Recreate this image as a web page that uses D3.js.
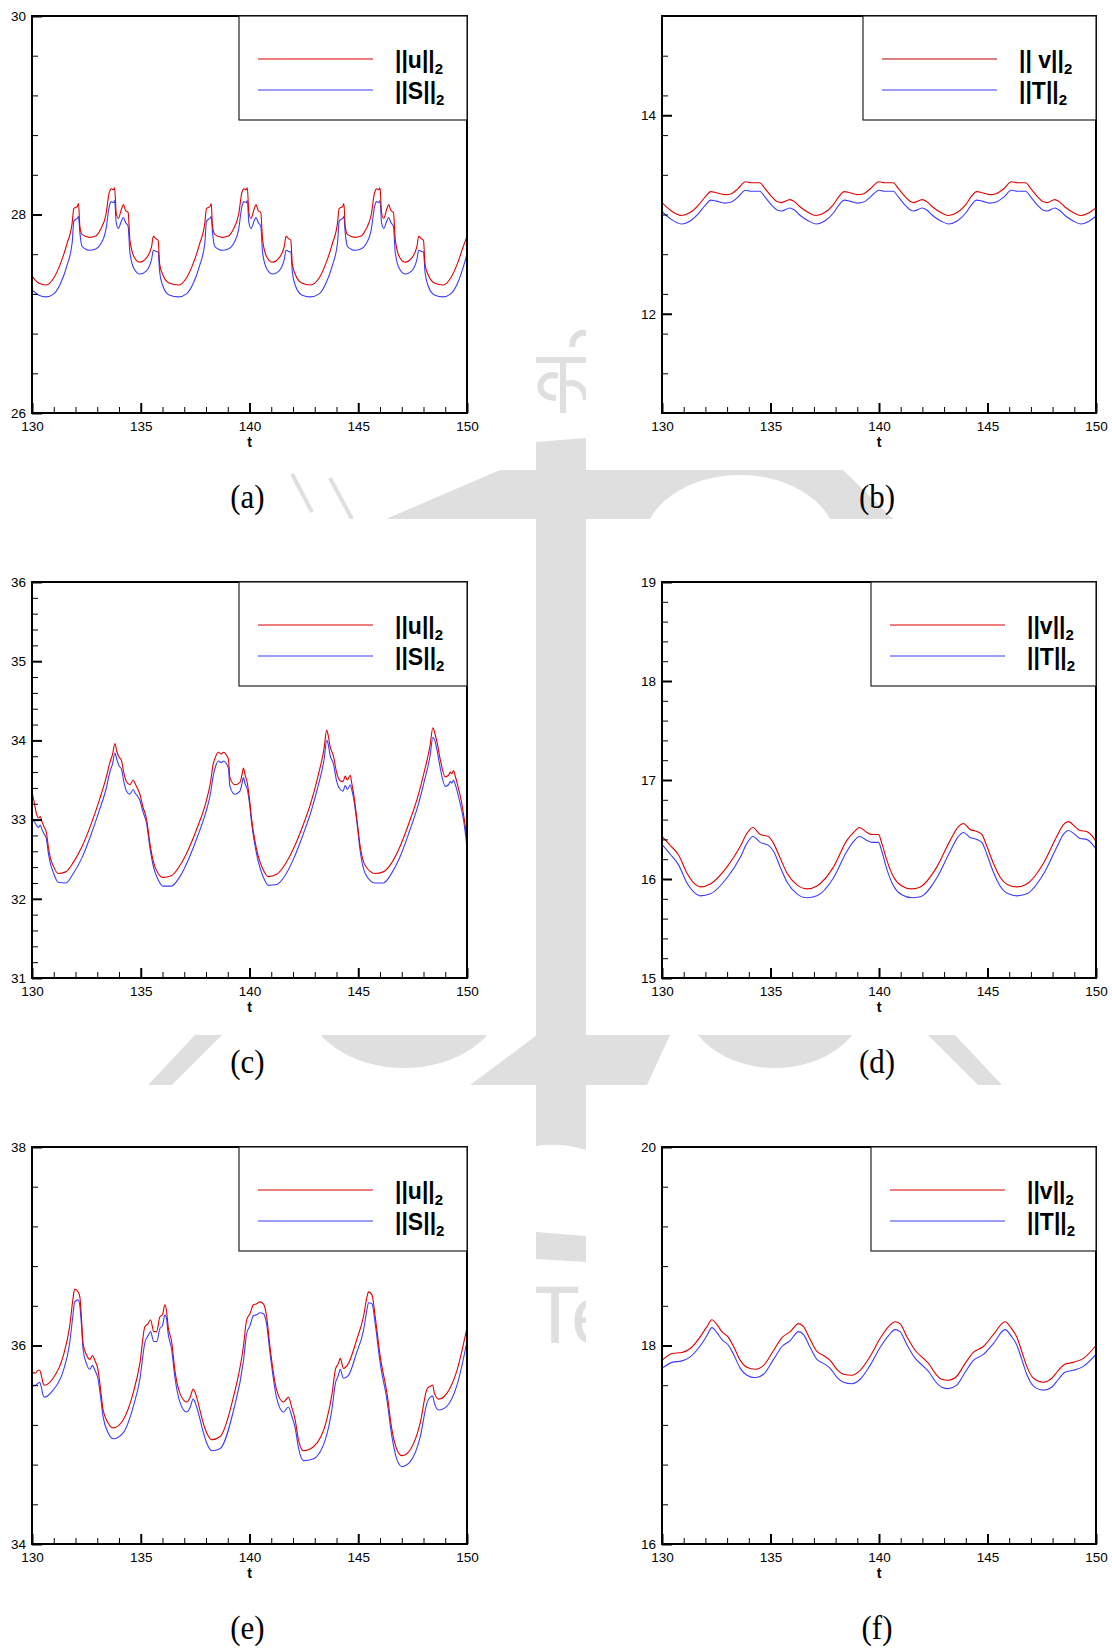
<!DOCTYPE html>
<html><head><meta charset="utf-8">
<script src="https://cdn.jsdelivr.net/npm/d3@7"></script>
<style>body{margin:0;background:#fff}svg{display:block}</style>
</head><body>
<svg id="chart" width="1112" height="1650"></svg>
<script>
// ---------------- data ----------------
const xTicks = [130, 135, 140, 145, 150];
const yTicksA = [26, 28, 30];
const yTicksB = [12, 14];
const yTicksC = [31, 32, 33, 34, 35, 36];
const yTicksD = [15, 16, 17, 18, 19];
const yTicksE = [34, 36, 38];
const yTicksF = [16, 18, 20];
const legendA = ["||u||", "||S||"];
const legendB = ["|| v||", "||T||"];
const legendD = ["||v||", "||T||"];
const captions = ["(a)", "(b)", "(c)", "(d)", "(e)", "(f)"];

// (a)
const tA = [130.00,130.30,130.65,131.00,131.30,131.60,131.85,131.92,132.00,132.08,132.14,132.20,132.30,132.65,132.90,133.15,133.40,133.55,133.65,133.75,133.80,133.87,133.97,134.12,134.20,134.30,134.42,134.50,134.70,134.96,135.25,135.50,135.58,135.68,135.80,135.87,136.00,136.30,
  136.75,137.10,137.40,137.70,137.95,138.02,138.10,138.18,138.24,138.30,138.40,138.75,139.00,139.25,139.50,139.65,139.75,139.85,139.90,139.97,140.07,140.22,140.30,140.40,140.52,140.60,140.80,141.06,141.35,141.60,141.68,141.78,141.90,141.97,142.10,142.40,
  142.80,143.20,143.50,143.80,144.05,144.12,144.20,144.28,144.34,144.40,144.50,144.85,145.10,145.35,145.60,145.75,145.85,145.95,146.00,146.07,146.17,146.32,146.40,146.50,146.62,146.70,146.90,147.16,147.45,147.70,147.78,147.88,148.00,148.07,148.20,148.50,148.90,149.25,149.55,149.80,150.00];
const uA = [27.38,27.31,27.29,27.36,27.50,27.70,27.92,28.06,28.07,28.08,28.11,27.88,27.80,27.77,27.78,27.85,28.00,28.22,28.26,28.25,28.27,28.02,27.96,28.06,28.10,28.04,28.02,27.75,27.57,27.52,27.56,27.68,27.78,27.76,27.74,27.50,27.40,27.31,
  27.29,27.36,27.50,27.70,27.92,28.06,28.07,28.08,28.11,27.88,27.80,27.77,27.78,27.85,28.00,28.22,28.26,28.25,28.27,28.02,27.96,28.06,28.10,28.04,28.02,27.75,27.57,27.52,27.56,27.68,27.78,27.76,27.74,27.50,27.40,27.31,
  27.29,27.36,27.50,27.70,27.92,28.06,28.07,28.08,28.11,27.88,27.80,27.77,27.78,27.85,28.00,28.22,28.26,28.25,28.27,28.02,27.96,28.06,28.10,28.04,28.02,27.75,27.57,27.52,27.56,27.68,27.78,27.76,27.74,27.50,27.40,27.31,27.29,27.36,27.50,27.66,27.78];
const SA = [27.24,27.19,27.17,27.20,27.30,27.48,27.72,27.93,27.95,27.96,27.98,27.82,27.68,27.64,27.65,27.70,27.85,28.08,28.13,28.12,28.14,27.92,27.86,27.94,27.97,27.92,27.88,27.62,27.45,27.40,27.43,27.55,27.64,27.63,27.62,27.42,27.29,27.19,
  27.17,27.20,27.30,27.48,27.72,27.93,27.95,27.96,27.98,27.82,27.68,27.64,27.65,27.70,27.85,28.08,28.13,28.12,28.14,27.92,27.86,27.94,27.97,27.92,27.88,27.62,27.45,27.40,27.43,27.55,27.64,27.63,27.62,27.42,27.29,27.19,
  27.17,27.20,27.30,27.48,27.72,27.93,27.95,27.96,27.98,27.82,27.68,27.64,27.65,27.70,27.85,28.08,28.13,28.12,28.14,27.92,27.86,27.94,27.97,27.92,27.88,27.62,27.45,27.40,27.43,27.55,27.64,27.63,27.62,27.42,27.29,27.19,27.17,27.20,27.30,27.45,27.60];

// (b)
const tB = [130.00,130.40,130.90,131.30,131.70,132.00,132.25,132.50,132.90,133.20,133.50,133.85,134.10,134.50,134.75,135.05,135.30,135.50,135.90,136.10,136.40,136.75,
  137.10,137.50,137.90,138.15,138.40,138.65,139.00,139.30,139.60,140.00,140.25,140.65,140.90,141.20,141.45,141.60,142.00,142.20,142.50,142.85,
  143.20,143.60,144.00,144.25,144.50,144.75,145.10,145.40,145.75,146.10,146.40,146.75,147.00,147.30,147.55,147.75,148.10,148.30,148.60,148.95,
  149.30,149.70,150.00];
const vB = [13.12,13.04,12.99,13.02,13.10,13.18,13.23,13.22,13.20,13.21,13.26,13.33,13.32,13.32,13.26,13.18,13.13,13.12,13.15,13.13,13.07,13.02,
  12.99,13.02,13.10,13.18,13.23,13.22,13.20,13.21,13.26,13.33,13.32,13.32,13.26,13.18,13.13,13.12,13.15,13.13,13.07,13.02,
  12.99,13.02,13.10,13.18,13.23,13.22,13.20,13.21,13.26,13.33,13.32,13.32,13.26,13.18,13.13,13.12,13.15,13.13,13.07,13.02,
  12.99,13.02,13.07];
const TB = [13.03,12.955,12.905,12.935,13.015,13.095,13.145,13.135,13.115,13.125,13.175,13.245,13.235,13.235,13.175,13.095,13.045,13.035,13.065,13.045,12.985,12.935,
  12.905,12.935,13.015,13.095,13.145,13.135,13.115,13.125,13.175,13.245,13.235,13.235,13.175,13.095,13.045,13.035,13.065,13.045,12.985,12.935,
  12.905,12.935,13.015,13.095,13.145,13.135,13.115,13.125,13.175,13.245,13.235,13.235,13.175,13.095,13.045,13.035,13.065,13.045,12.985,12.935,
  12.905,12.935,12.985];

// (c)
const tC = [130.00,130.10,130.22,130.30,130.38,130.45,130.55,130.66,130.75,130.85,
  130.97,131.20,131.55,131.90,132.30,132.70,133.10,133.40,133.60,133.70,
  133.81,133.90,134.00,134.11,134.22,134.34,134.50,134.65,134.75,134.84,
  134.95,135.10,135.27,135.42,135.57,135.80,136.03,136.40,136.80,137.20,
  137.60,138.00,138.20,138.33,138.45,138.56,138.70,138.80,138.95,139.03,
  139.10,139.33,139.56,139.65,139.72,139.80,139.90,140.00,140.10,140.33,
  140.64,140.87,141.25,141.65,142.05,142.45,142.85,143.15,143.43,143.55,
  143.62,143.70,143.86,144.01,144.17,144.30,144.40,144.50,144.63,144.70,
  144.78,144.94,145.09,145.32,145.78,146.15,146.55,146.95,147.35,147.75,
  148.05,148.30,148.43,148.52,148.62,148.77,149.00,149.15,149.23,149.30,
  149.38,149.45,149.51,149.60,149.69,149.85,150.00];
const uC = [33.35,33.22,33.06,33.02,33.04,32.98,32.91,32.84,32.66,32.51,
  32.42,32.32,32.34,32.46,32.66,32.93,33.25,33.52,33.74,33.82,
  33.96,33.86,33.79,33.75,33.59,33.48,33.44,33.50,33.45,33.40,
  33.33,33.16,33.00,32.70,32.48,32.32,32.27,32.29,32.42,32.63,
  32.90,33.22,33.46,33.70,33.80,33.85,33.83,33.85,33.81,33.76,
  33.53,33.44,33.47,33.56,33.65,33.56,33.46,33.26,33.00,32.62,
  32.36,32.28,32.31,32.44,32.65,32.92,33.24,33.55,33.90,34.13,
  34.06,33.93,33.80,33.59,33.49,33.48,33.55,33.50,33.56,33.46,
  33.34,33.00,32.66,32.42,32.32,32.34,32.46,32.68,32.97,33.30,
  33.62,33.93,34.16,34.09,33.98,33.76,33.54,33.56,33.60,33.58,
  33.62,33.56,33.50,33.40,33.30,33.05,32.75];
const SC = [33.02,32.98,32.92,32.90,32.93,32.88,32.82,32.76,32.58,32.44,
  32.34,32.21,32.20,32.32,32.52,32.80,33.12,33.38,33.62,33.70,
  33.84,33.76,33.68,33.64,33.48,33.36,33.32,33.38,33.33,33.30,
  33.25,33.10,32.95,32.65,32.42,32.24,32.16,32.16,32.28,32.50,
  32.78,33.10,33.32,33.55,33.68,33.74,33.72,33.74,33.70,33.65,
  33.42,33.32,33.36,33.45,33.53,33.45,33.38,33.20,32.95,32.56,
  32.27,32.17,32.18,32.30,32.52,32.80,33.12,33.42,33.76,34.00,
  33.95,33.82,33.70,33.48,33.38,33.36,33.43,33.38,33.44,33.38,
  33.28,32.96,32.60,32.32,32.20,32.20,32.33,32.55,32.85,33.18,
  33.50,33.80,34.04,34.00,33.88,33.65,33.42,33.44,33.48,33.46,
  33.50,33.45,33.40,33.30,33.20,32.98,32.65];

// (d)
const tD = [130.00,130.38,130.77,131.15,131.46,131.77,132.23,132.99,133.61,133.91,
  134.19,134.53,134.91,135.14,135.45,135.76,136.22,136.68,137.14,137.90,
  138.52,138.83,139.10,139.44,139.67,139.98,140.13,140.36,140.67,141.05,
  141.51,141.90,142.66,143.28,143.66,143.89,144.20,144.51,144.74,144.97,
  145.27,145.58,145.96,146.35,146.81,147.58,148.19,148.50,148.73,149.03,
  149.26,149.57,149.80,150.00];
const vD = [16.43,16.34,16.24,16.06,15.96,15.92,15.95,16.12,16.33,16.46,
  16.52,16.45,16.43,16.36,16.21,16.06,15.94,15.90,15.93,16.12,
  16.39,16.47,16.52,16.47,16.45,16.45,16.36,16.19,16.02,15.93,
  15.90,15.92,16.12,16.39,16.53,16.56,16.50,16.48,16.45,16.33,
  16.16,16.02,15.94,15.92,15.95,16.16,16.43,16.55,16.58,16.53,
  16.49,16.48,16.44,16.38];
const TD = [16.35,16.25,16.14,15.96,15.87,15.83,15.85,16.01,16.22,16.36,
  16.43,16.37,16.34,16.28,16.12,15.97,15.85,15.81,15.83,16.01,
  16.28,16.38,16.43,16.39,16.37,16.37,16.28,16.10,15.93,15.84,
  15.81,15.82,16.01,16.28,16.43,16.47,16.42,16.40,16.37,16.25,
  16.07,15.93,15.85,15.83,15.85,16.05,16.32,16.45,16.49,16.45,
  16.41,16.40,16.36,16.30];

// (e)
const tE = [130.00,130.08,130.15,130.28,130.35,130.43,130.51,130.58,130.97,131.43,
  131.73,131.89,131.96,132.12,132.20,132.27,132.35,132.50,132.66,132.78,
  132.89,133.04,133.12,133.27,133.50,133.73,134.19,134.65,134.96,135.19,
  135.34,135.45,135.60,135.73,135.88,136.00,136.11,136.19,136.26,136.42,
  136.57,136.80,137.11,137.26,137.41,137.57,137.72,137.87,138.03,138.26,
  138.64,139.26,139.72,139.87,140.02,140.18,140.33,140.48,140.64,140.79,
  140.94,141.25,141.56,141.79,141.94,142.10,142.25,142.48,142.94,143.55,
  143.80,143.95,144.09,144.17,144.32,144.55,144.93,145.24,145.40,145.47,
  145.63,145.78,146.01,146.32,146.55,146.78,147.01,147.39,147.85,148.16,
  148.31,148.42,148.50,148.70,149.08,149.54,150.00];
const uE = [35.69,35.73,35.72,35.75,35.75,35.70,35.62,35.60,35.67,35.89,
  36.19,36.48,36.57,36.54,36.49,36.29,36.02,35.91,35.86,35.90,
  35.85,35.75,35.62,35.35,35.22,35.17,35.25,35.52,35.82,36.19,
  36.22,36.26,36.14,36.14,36.29,36.31,36.41,36.34,36.19,36.04,
  35.75,35.52,35.43,35.47,35.56,35.48,35.35,35.22,35.12,35.05,
  35.08,35.48,35.99,36.26,36.32,36.41,36.42,36.44,36.42,36.29,
  35.99,35.55,35.43,35.48,35.38,35.25,35.05,34.94,34.98,35.25,
  35.52,35.76,35.82,35.87,35.77,35.82,36.06,36.29,36.49,36.54,
  36.51,36.29,35.89,35.52,35.15,34.95,34.89,34.95,35.22,35.56,
  35.59,35.60,35.52,35.46,35.52,35.75,36.18];
const SE = [35.58,35.60,35.60,35.62,35.63,35.58,35.50,35.48,35.55,35.74,
  36.02,36.32,36.44,36.46,36.40,36.22,35.96,35.82,35.76,35.80,
  35.75,35.66,35.54,35.28,35.12,35.06,35.12,35.38,35.66,36.03,
  36.10,36.14,36.04,36.04,36.17,36.20,36.31,36.26,36.12,35.96,
  35.68,35.43,35.33,35.37,35.46,35.38,35.26,35.13,35.02,34.94,
  34.96,35.34,35.84,36.12,36.20,36.30,36.31,36.33,36.32,36.21,
  35.93,35.47,35.33,35.38,35.29,35.17,34.97,34.84,34.86,35.10,
  35.37,35.62,35.70,35.76,35.67,35.70,35.93,36.15,36.36,36.43,
  36.42,36.22,35.82,35.45,35.08,34.85,34.78,34.83,35.08,35.42,
  35.48,35.49,35.42,35.35,35.39,35.60,36.04];

// (f)
const tF = [130.00,130.46,130.92,131.30,131.77,132.07,132.30,132.53,132.76,133.07,
  133.30,133.61,133.91,134.30,134.68,135.14,135.53,135.91,136.29,136.52,
  136.83,137.14,137.44,137.75,138.06,138.37,138.75,139.13,139.59,140.05,
  140.44,140.74,140.97,141.28,141.67,142.05,142.28,142.59,142.89,143.20,
  143.58,143.97,144.35,144.81,145.27,145.81,146.11,146.34,146.58,146.81,
  147.12,147.57,147.96,148.27,148.57,148.96,149.42,150.00];
const vF = [17.85,17.92,17.93,17.97,18.09,18.19,18.26,18.21,18.14,18.08,
  17.99,17.85,17.78,17.76,17.80,17.95,18.08,18.14,18.22,18.19,
  18.06,17.94,17.90,17.85,17.76,17.71,17.70,17.75,17.89,18.07,
  18.19,18.24,18.22,18.09,17.95,17.87,17.82,17.72,17.66,17.65,
  17.69,17.82,17.93,17.99,18.11,18.24,18.17,18.09,17.94,17.79,
  17.67,17.63,17.67,17.75,17.81,17.83,17.87,18.00];
const TF = [17.77,17.83,17.845,17.885,18.00,18.10,18.18,18.13,18.06,18.00,
  17.91,17.77,17.70,17.675,17.71,17.86,17.99,18.05,18.14,18.11,
  17.98,17.86,17.82,17.77,17.68,17.63,17.615,17.66,17.80,17.98,
  18.10,18.16,18.14,18.01,17.87,17.79,17.74,17.64,17.58,17.565,
  17.60,17.73,17.85,17.91,18.02,18.16,18.09,18.01,17.86,17.71,
  17.59,17.55,17.58,17.66,17.73,17.75,17.79,17.91];

// ---------------- layout ----------------
const RED = "#e00000", BLUE = "#3c3cff", WM = "#dfdfdf";
const panels = [
  {id:"a", t:tA, s1:uA, s2:SA, leg:legendA, yd:[26,30], yt:yTicksA, minor:0.4, L:32,  T:16,   R:467,  B:413,  lx:239, legRed:RED},
  {id:"b", t:tB, s1:vB, s2:TB, leg:legendB, yd:[11,15], yt:yTicksB, minor:0.4, L:662, T:16,   R:1096, B:413,  lx:863, legRed:"#b80000"},
  {id:"c", t:tC, s1:uC, s2:SC, leg:legendA, yd:[31,36], yt:yTicksC, minor:0.2, L:32,  T:582,  R:467,  B:978,  lx:239, legRed:RED},
  {id:"d", t:tD, s1:vD, s2:TD, leg:legendD, yd:[15,19], yt:yTicksD, minor:0.2, L:662, T:582,  R:1096, B:978,  lx:871, legRed:RED},
  {id:"e", t:tE, s1:uE, s2:SE, leg:legendA, yd:[34,38], yt:yTicksE, minor:0.4, L:32,  T:1147, R:467,  B:1544, lx:239, legRed:RED},
  {id:"f", t:tF, s1:vF, s2:TF, leg:legendD, yd:[16,20], yt:yTicksF, minor:0.4, L:662, T:1147, R:1096, B:1544, lx:871, legRed:RED}
];

const svg = d3.select("#chart");
const defs = svg.append("defs");

// ---------------- watermark (faint background logo) ----------------
const wmClip = defs.append("clipPath").attr("id", "wmclip");
wmClip.append("rect").attr("x", 536).attr("y", 0).attr("width", 50).attr("height", 1650);
wmClip.append("rect").attr("x", 0).attr("y", 470).attr("width", 1112).attr("height", 49);
wmClip.append("rect").attr("x", 0).attr("y", 1035).attr("width", 1112).attr("height", 50);
const wm = svg.append("g").attr("clip-path", "url(#wmclip)");
wm.append("path").attr("d", "M536,360 L586,360 M563,360 L563,413 M558,376 C538,370 532,398 556,398 M566,384 C578,380 586,390 586,400 M572,347 C572,332 586,330 590,336")
  .attr("fill", "none").attr("stroke", WM).attr("stroke-width", 6);
wm.append("path").attr("d", "M536,442 L586,438 L586,1150 Q561,1142 536,1146 Z").attr("fill", WM);
wm.append("path").attr("d", "M536,1232 L586,1236 L586,1262 L536,1259 Z").attr("fill", WM);
wm.append("text").attr("x", 530).attr("y", 1343).attr("font-family", "Liberation Sans, Arial, sans-serif")
  .attr("font-size", 82).attr("fill", WM).text("Te");
wm.append("path").attr("d", "M386,519 L500,470 L536,470 L536,519 Z").attr("fill", WM);
wm.append("path").attr("d", "M586,470 L843,470 L893,519 L586,519 Z").attr("fill", WM);
wm.append("ellipse").attr("cx", 740).attr("cy", 545).attr("rx", 97).attr("ry", 70).attr("fill", "#fff");
wm.append("ellipse").attr("cx", 593).attr("cy", 540).attr("rx", 55).attr("ry", 32).attr("fill", WM);
wm.append("path").attr("d", "M292,474 L312,512 M330,478 L352,519").attr("stroke", WM).attr("stroke-width", 4);
wm.append("path").attr("d", "M195,1035 L222,1035 L172,1085 L148,1085 Z").attr("fill", WM);
wm.append("ellipse").attr("cx", 404).attr("cy", 1000).attr("rx", 97).attr("ry", 68).attr("fill", WM);
wm.append("path").attr("d", "M537,1035 L670,1035 L647,1085 L470,1085 Z").attr("fill", WM);
wm.append("ellipse").attr("cx", 775).attr("cy", 1000).attr("rx", 90).attr("ry", 68).attr("fill", WM);
wm.append("path").attr("d", "M928,1035 L955,1035 L1002,1085 L978,1085 Z").attr("fill", WM);

// ---------------- panels ----------------
panels.forEach((p, idx) => {
  const x = d3.scaleLinear().domain([130, 150]).range([p.L, p.R]);
  const y = d3.scaleLinear().domain(p.yd).range([p.B, p.T]);
  const g = svg.append("g");

  defs.append("clipPath").attr("id", "clip" + p.id)
    .append("rect").attr("x", p.L).attr("y", p.T).attr("width", p.R - p.L).attr("height", p.B - p.T);

  g.append("rect").attr("x", p.L).attr("y", p.T).attr("width", p.R - p.L).attr("height", p.B - p.T).attr("fill", "#fff");

  const line = d3.line().x((d, i) => x(p.t[i])).y(d => y(d)).curve(d3.curveMonotoneX);
  const lg = g.append("g").attr("clip-path", "url(#clip" + p.id + ")");
  lg.append("path").datum(p.s2).attr("d", line).attr("fill", "none").attr("stroke", BLUE).attr("stroke-width", 1.1);
  lg.append("path").datum(p.s1).attr("d", line).attr("fill", "none").attr("stroke", RED).attr("stroke-width", 1.1);

  const xMinor = d3.range(130, 150.001, 1).filter(v => !xTicks.includes(v));
  const yMinor = d3.range(p.yd[0], p.yd[1] + 1e-6, p.minor).map(v => +v.toFixed(2))
    .filter(v => !p.yt.some(m => Math.abs(m - v) < 1e-6) && v > p.yd[0] + 1e-6 && v < p.yd[1] - 1e-6);

  const axMinX = g.append("g").attr("transform", `translate(0,${p.B})`)
    .call(d3.axisBottom(x).tickValues(xMinor).tickSize(-6).tickFormat(""));
  const axMinY = g.append("g").attr("transform", `translate(${p.L},0)`)
    .call(d3.axisLeft(y).tickValues(yMinor).tickSize(-6).tickFormat(""));
  [axMinX, axMinY].forEach(a => { a.select(".domain").remove(); a.selectAll("line").attr("stroke", "#000").attr("stroke-width", 1); });

  const axX = g.append("g").attr("transform", `translate(0,${p.B})`)
    .call(d3.axisBottom(x).tickValues(xTicks).tickSize(-10).tickPadding(8).tickFormat(d3.format("d")));
  const axY = g.append("g").attr("transform", `translate(${p.L},0)`)
    .call(d3.axisLeft(y).tickValues(p.yt).tickSize(-10).tickPadding(6).tickFormat(d3.format("d")));
  [axX, axY].forEach(a => {
    a.select(".domain").remove();
    a.selectAll("line").attr("stroke", "#000").attr("stroke-width", 2);
    a.selectAll("text").attr("font-family", "Liberation Sans, Arial, Helvetica, sans-serif").attr("font-size", 13.5).attr("fill", "#000");
  });

  g.append("rect").attr("x", p.L).attr("y", p.T).attr("width", p.R - p.L).attr("height", p.B - p.T)
    .attr("fill", "none").attr("stroke", "#000").attr("stroke-width", 2);

  g.append("text").attr("x", (p.L + p.R) / 2).attr("y", p.B + 34).attr("text-anchor", "middle")
    .attr("font-family", "Liberation Sans, Arial, sans-serif").attr("font-weight", "bold").attr("font-size", 14).text("t");

  const lx0 = p.lx, ly0 = p.T;
  g.append("rect").attr("x", lx0).attr("y", ly0).attr("width", p.R - lx0).attr("height", 104)
    .attr("fill", "#fff").attr("stroke", "#222").attr("stroke-width", 1.2);
  [p.legRed, BLUE].forEach((c, k) => {
    const yy = ly0 + 43 + k * 31;
    g.append("line").attr("x1", lx0 + 19).attr("x2", lx0 + 134).attr("y1", yy).attr("y2", yy)
      .attr("stroke", c).attr("stroke-width", 1.2);
    const tx = g.append("text").attr("x", lx0 + 156).attr("y", yy + 9)
      .attr("font-family", "Liberation Sans, Arial, sans-serif").attr("font-weight", "bold").attr("font-size", 23).attr("fill", "#000");
    tx.append("tspan").text(p.leg[k]);
    tx.append("tspan").attr("font-size", 15).attr("dy", 6).text("2");
  });

  svg.append("text").attr("transform", `translate(${(p.L + p.R) / 2 - 2},${p.B + 95}) scale(1,1.12)`)
    .attr("text-anchor", "middle").attr("font-family", "Liberation Serif, 'DejaVu Serif', serif")
    .attr("font-size", 31).attr("fill", "#000").text(captions[idx]);
});
</script>
</body></html>
